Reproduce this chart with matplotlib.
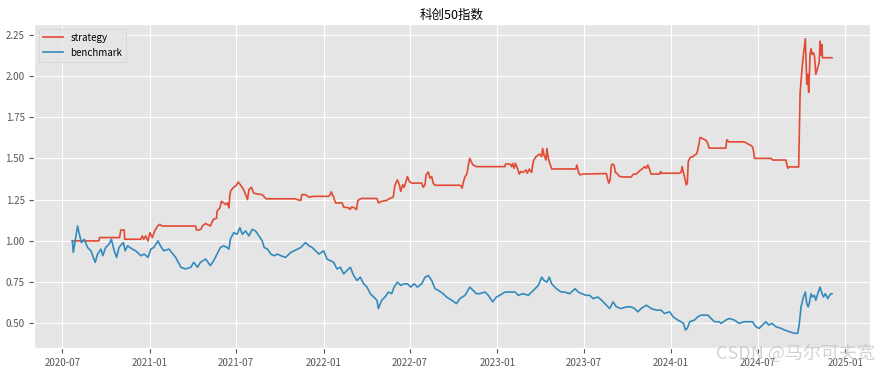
import matplotlib
matplotlib.use('Agg')
import matplotlib.pyplot as plt
import matplotlib.dates as mdates
import pandas as pd

# 科创50 净值曲线
bench_dates = [
    '2020-07-22', '2020-07-24', '2020-08-02', '2020-08-05', '2020-08-10', '2020-08-16', '2020-08-23', '2020-08-30',
    '2020-09-08', '2020-09-13', '2020-09-20', '2020-09-24', '2020-09-30', '2020-10-07', '2020-10-12', '2020-10-18',
    '2020-10-23', '2020-10-28', '2020-11-06', '2020-11-10', '2020-11-15', '2020-11-25', '2020-12-02', '2020-12-13',
    '2020-12-20', '2020-12-28', '2021-01-03', '2021-01-09', '2021-01-18', '2021-01-23', '2021-01-30', '2021-02-10',
    '2021-02-24', '2021-03-07', '2021-03-17', '2021-03-28', '2021-04-03', '2021-04-11', '2021-04-17', '2021-04-28',
    '2021-05-08', '2021-05-15', '2021-05-22', '2021-05-29', '2021-06-05', '2021-06-12', '2021-06-16', '2021-06-19',
    '2021-06-26', '2021-07-03', '2021-07-09', '2021-07-14', '2021-07-21', '2021-07-28', '2021-08-04', '2021-08-11',
    '2021-08-18', '2021-08-25', '2021-08-29', '2021-09-05', '2021-09-12', '2021-09-19', '2021-09-26', '2021-10-03',
    '2021-10-13', '2021-10-24', '2021-11-07', '2021-11-14', '2021-11-24', '2021-12-01', '2021-12-08', '2021-12-15',
    '2021-12-22', '2022-01-01', '2022-01-08', '2022-01-15', '2022-01-22', '2022-01-29', '2022-02-05', '2022-02-12',
    '2022-02-19', '2022-02-26', '2022-03-05', '2022-03-12', '2022-03-19', '2022-03-26', '2022-04-02', '2022-04-09',
    '2022-04-16', '2022-04-23', '2022-04-26', '2022-05-03', '2022-05-10', '2022-05-17', '2022-05-24', '2022-05-29',
    '2022-06-05', '2022-06-12', '2022-06-19', '2022-06-26', '2022-07-03', '2022-07-10', '2022-07-17', '2022-07-26',
    '2022-08-02', '2022-08-09', '2022-08-16', '2022-08-23', '2022-08-30', '2022-09-09', '2022-09-16', '2022-09-27',
    '2022-10-07', '2022-10-14', '2022-10-25', '2022-11-04', '2022-11-11', '2022-11-18', '2022-11-25', '2022-12-06',
    '2022-12-13', '2022-12-22', '2022-12-30', '2023-01-06', '2023-01-17', '2023-01-27', '2023-02-07', '2023-02-14',
    '2023-02-24', '2023-03-07', '2023-03-14', '2023-03-21', '2023-03-28', '2023-04-04', '2023-04-09', '2023-04-15',
    '2023-04-20', '2023-04-25', '2023-05-05', '2023-05-15', '2023-05-22', '2023-06-02', '2023-06-13', '2023-06-20',
    '2023-06-27', '2023-07-07', '2023-07-14', '2023-07-21', '2023-07-31', '2023-08-08', '2023-08-18', '2023-08-25',
    '2023-09-01', '2023-09-08', '2023-09-18', '2023-09-29', '2023-10-09', '2023-10-16', '2023-10-23', '2023-10-30',
    '2023-11-10', '2023-11-20', '2023-12-01', '2023-12-11', '2023-12-18', '2023-12-29', '2024-01-05', '2024-01-15',
    '2024-01-22', '2024-01-27', '2024-01-31', '2024-02-04', '2024-02-09', '2024-02-19', '2024-02-26', '2024-03-04',
    '2024-03-11', '2024-03-18', '2024-03-25', '2024-04-01', '2024-04-11', '2024-04-15', '2024-04-25', '2024-05-02',
    '2024-05-13', '2024-05-23', '2024-06-02', '2024-06-13', '2024-06-20', '2024-06-27', '2024-07-04', '2024-07-11',
    '2024-07-18', '2024-07-24', '2024-07-31', '2024-08-08', '2024-08-19', '2024-08-26', '2024-09-05', '2024-09-16',
    '2024-09-23', '2024-09-26', '2024-09-30', '2024-10-05', '2024-10-09', '2024-10-12', '2024-10-15', '2024-10-17',
    '2024-10-21', '2024-10-24', '2024-10-28', '2024-10-31', '2024-11-04', '2024-11-09', '2024-11-13', '2024-11-16',
    '2024-11-20', '2024-11-25', '2024-11-29', '2024-12-02', '2024-12-04',
]
bench_values = [
    1.00, 0.93, 1.09, 1.05, 0.99, 1.01, 0.96, 0.94,
    0.87, 0.92, 0.95, 0.91, 0.96, 0.98, 1.01, 0.94,
    0.90, 0.96, 0.99, 0.94, 0.97, 0.95, 0.94, 0.91,
    0.92, 0.90, 0.95, 0.96, 1.00, 0.97, 0.94, 0.95,
    0.90, 0.84, 0.83, 0.84, 0.87, 0.84, 0.87, 0.89,
    0.85, 0.88, 0.92, 0.96, 0.97, 0.96, 0.95, 1.01,
    1.05, 1.04, 1.08, 1.04, 1.06, 1.03, 1.07, 1.06,
    1.03, 1.00, 0.96, 0.95, 0.92, 0.91, 0.92, 0.91,
    0.90, 0.93, 0.95, 0.96, 0.99, 0.97, 0.96, 0.94,
    0.92, 0.94, 0.89, 0.88, 0.87, 0.83, 0.84, 0.80,
    0.82, 0.84, 0.79, 0.76, 0.78, 0.74, 0.72, 0.68,
    0.66, 0.64, 0.59, 0.64, 0.66, 0.69, 0.68, 0.72,
    0.75, 0.73, 0.74, 0.74, 0.72, 0.74, 0.72, 0.74,
    0.78, 0.79, 0.76, 0.71, 0.70, 0.68, 0.66, 0.64,
    0.62, 0.65, 0.67, 0.72, 0.70, 0.68, 0.68, 0.69,
    0.67, 0.63, 0.66, 0.67, 0.69, 0.69, 0.69, 0.67,
    0.68, 0.67, 0.69, 0.71, 0.73, 0.78, 0.76, 0.75,
    0.78, 0.74, 0.71, 0.69, 0.69, 0.68, 0.71, 0.69,
    0.68, 0.67, 0.67, 0.65, 0.66, 0.64, 0.61, 0.59,
    0.63, 0.60, 0.59, 0.60, 0.60, 0.59, 0.57, 0.59,
    0.61, 0.59, 0.58, 0.58, 0.56, 0.57, 0.54, 0.52,
    0.51, 0.50, 0.46, 0.47, 0.51, 0.52, 0.54, 0.55,
    0.55, 0.55, 0.53, 0.51, 0.51, 0.50, 0.52, 0.53,
    0.52, 0.50, 0.51, 0.51, 0.51, 0.48, 0.47, 0.49,
    0.51, 0.49, 0.50, 0.48, 0.47, 0.46, 0.45, 0.44,
    0.44, 0.49, 0.60, 0.66, 0.69, 0.62, 0.60, 0.62,
    0.68, 0.66, 0.67, 0.64, 0.68, 0.72, 0.68, 0.66,
    0.68, 0.65, 0.67, 0.68, 0.68,
]

strat_dates = [
    '2020-07-22', '2020-09-16', '2020-09-17', '2020-10-29', '2020-11-01', '2020-11-08', '2020-11-09', '2020-12-13',
    '2020-12-16', '2020-12-19', '2020-12-23', '2020-12-28', '2021-01-01', '2021-01-06', '2021-01-11', '2021-01-17',
    '2021-01-22', '2021-01-26', '2021-04-07', '2021-04-09', '2021-04-14', '2021-04-18', '2021-04-21', '2021-04-28',
    '2021-05-08', '2021-05-14', '2021-05-21', '2021-05-22', '2021-05-28', '2021-05-31', '2021-06-05', '2021-06-09',
    '2021-06-13', '2021-06-16', '2021-06-18', '2021-06-20', '2021-06-26', '2021-07-02', '2021-07-05', '2021-07-10',
    '2021-07-17', '2021-07-25', '2021-07-28', '2021-08-02', '2021-08-07', '2021-08-13', '2021-08-25', '2021-09-02',
    '2021-11-03', '2021-11-06', '2021-11-14', '2021-11-16', '2021-11-24', '2021-12-01', '2021-12-11', '2022-01-11',
    '2022-01-15', '2022-01-17', '2022-01-22', '2022-01-26', '2022-02-09', '2022-02-12', '2022-02-23', '2022-02-25',
    '2022-03-01', '2022-03-07', '2022-03-11', '2022-03-14', '2022-03-21', '2022-04-23', '2022-04-26', '2022-05-03',
    '2022-05-13', '2022-05-20', '2022-05-27', '2022-05-31', '2022-06-05', '2022-06-09', '2022-06-12', '2022-06-16',
    '2022-06-19', '2022-06-23', '2022-06-26', '2022-06-30', '2022-07-05', '2022-07-26', '2022-07-29', '2022-08-02',
    '2022-08-04', '2022-08-09', '2022-08-12', '2022-08-16', '2022-08-19', '2022-08-23', '2022-10-14', '2022-10-18',
    '2022-10-19', '2022-10-21', '2022-10-25', '2022-10-28', '2022-10-30', '2022-11-01', '2022-11-04', '2022-11-08',
    '2022-11-11', '2022-11-18', '2023-01-17', '2023-01-18', '2023-01-27', '2023-01-31', '2023-02-02', '2023-02-05',
    '2023-02-08', '2023-02-12', '2023-02-16', '2023-02-19', '2023-02-24', '2023-03-02', '2023-03-05', '2023-03-09',
    '2023-03-14', '2023-03-16', '2023-03-18', '2023-03-23', '2023-03-28', '2023-03-31', '2023-04-04', '2023-04-06',
    '2023-04-09', '2023-04-13', '2023-04-15', '2023-04-18', '2023-04-21', '2023-04-25', '2023-06-15', '2023-06-17',
    '2023-06-21', '2023-06-24', '2023-06-30', '2023-08-18', '2023-08-20', '2023-08-23', '2023-08-26', '2023-08-28',
    '2023-08-30', '2023-09-03', '2023-09-06', '2023-09-09', '2023-09-15', '2023-09-22', '2023-10-09', '2023-10-14',
    '2023-10-20', '2023-10-25', '2023-10-29', '2023-11-03', '2023-11-06', '2023-11-10', '2023-11-13', '2023-11-17',
    '2023-11-20', '2023-12-08', '2023-12-10', '2023-12-12', '2024-01-18', '2024-01-22', '2024-01-24', '2024-01-28',
    '2024-01-31', '2024-02-02', '2024-02-04', '2024-02-06', '2024-02-10', '2024-02-16', '2024-02-19', '2024-02-23',
    '2024-02-25', '2024-02-28', '2024-03-02', '2024-03-07', '2024-03-14', '2024-03-18', '2024-03-21', '2024-04-25',
    '2024-04-27', '2024-05-01', '2024-06-02', '2024-06-06', '2024-06-12', '2024-06-17', '2024-06-20', '2024-06-22',
    '2024-06-24', '2024-07-29', '2024-08-01', '2024-08-29', '2024-08-31', '2024-09-02', '2024-09-04', '2024-09-25',
    '2024-09-26', '2024-09-28', '2024-10-02', '2024-10-05', '2024-10-09', '2024-10-12', '2024-10-14', '2024-10-16',
    '2024-10-19', '2024-10-21', '2024-10-23', '2024-10-26', '2024-10-28', '2024-10-31', '2024-11-04', '2024-11-07',
    '2024-11-09', '2024-11-11', '2024-11-13', '2024-11-14', '2024-12-04',
]
strat_values = [
    1.00, 1.00, 1.02, 1.02, 1.066, 1.066, 1.01, 1.01,
    1.03, 1.01, 1.03, 1.00, 1.05, 1.02, 1.06, 1.09,
    1.10, 1.09, 1.09, 1.066, 1.066, 1.07, 1.09, 1.105,
    1.09, 1.13, 1.137, 1.18, 1.20, 1.24, 1.23, 1.22,
    1.23, 1.20, 1.28, 1.305, 1.325, 1.337, 1.357, 1.34,
    1.31, 1.25, 1.31, 1.325, 1.29, 1.285, 1.28, 1.255,
    1.255, 1.25, 1.245, 1.28, 1.28, 1.265, 1.27, 1.27,
    1.28, 1.297, 1.265, 1.23, 1.23, 1.205, 1.20, 1.19,
    1.205, 1.20, 1.19, 1.245, 1.257, 1.257, 1.23, 1.24,
    1.245, 1.257, 1.265, 1.34, 1.37, 1.34, 1.30, 1.34,
    1.325, 1.36, 1.39, 1.36, 1.35, 1.35, 1.325, 1.34,
    1.40, 1.417, 1.38, 1.39, 1.35, 1.337, 1.337, 1.33,
    1.32, 1.35, 1.39, 1.40, 1.42, 1.46, 1.50, 1.475,
    1.46, 1.45, 1.45, 1.466, 1.466, 1.45, 1.47, 1.44,
    1.47, 1.44, 1.405, 1.42, 1.415, 1.43, 1.41, 1.435,
    1.415, 1.458, 1.486, 1.51, 1.52, 1.526, 1.51, 1.56,
    1.52, 1.49, 1.56, 1.50, 1.47, 1.436, 1.436, 1.46,
    1.41, 1.40, 1.405, 1.408, 1.38, 1.35, 1.37, 1.45,
    1.466, 1.46, 1.415, 1.41, 1.39, 1.387, 1.387, 1.405,
    1.405, 1.42, 1.43, 1.44, 1.45, 1.44, 1.46, 1.43,
    1.405, 1.405, 1.42, 1.41, 1.41, 1.415, 1.45, 1.40,
    1.365, 1.34, 1.35, 1.48, 1.506, 1.51, 1.52, 1.525,
    1.54, 1.58, 1.627, 1.62, 1.61, 1.59, 1.562, 1.562,
    1.613, 1.60, 1.60, 1.595, 1.585, 1.578, 1.57, 1.545,
    1.50, 1.50, 1.49, 1.49, 1.465, 1.44, 1.448, 1.448,
    1.60, 1.90, 2.04, 2.13, 2.225, 1.95, 2.01, 1.90,
    2.13, 2.165, 2.13, 2.14, 2.125, 2.01, 2.05, 2.08,
    2.21, 2.125, 2.19, 2.11, 2.11,
]

plt.style.use('ggplot')
plt.rcParams['font.family'] = ['Noto Sans CJK SC', 'DejaVu Sans']
plt.rcParams['axes.unicode_minus'] = False

fig = plt.figure(figsize=(8.81, 3.74), dpi=100)
ax = fig.add_axes([0.039, 0.0695, 0.9485, 0.8663])

ax.plot(pd.to_datetime(strat_dates), strat_values, label='strategy', lw=1.2)
ax.plot(pd.to_datetime(bench_dates), bench_values, label='benchmark', lw=1.2)

ax.set_title('科创50指数', fontsize=9, color='black', pad=4)
ax.xaxis.set_major_locator(mdates.MonthLocator(bymonth=[1, 7]))
ax.xaxis.set_major_formatter(mdates.DateFormatter('%Y-%m'))
ax.tick_params(labelsize=7, colors='#555555')
ax.legend(loc='upper left', fontsize=7)

# 水印
fig.text(0.993, 0.056, 'CSDN @马尔可夫宽', ha='right', va='center',
         fontsize=13, color='#c4c4c4', alpha=0.75)

fig.savefig('out.png', dpi=100)
